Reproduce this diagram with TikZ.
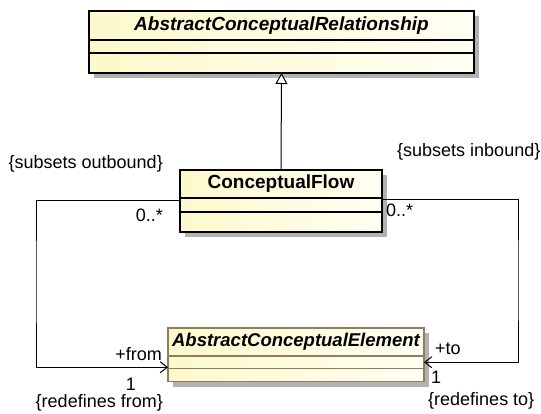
\documentclass[tikz,border=0pt]{standalone}
\usepackage{fontspec}
\setmainfont{Liberation Sans}
\usetikzlibrary{arrows.meta,positioning,shadows}
\definecolor{classleft}{RGB}{252,249,204}
\definecolor{classright}{RGB}{255,255,242}
\definecolor{shadowgray}{RGB}{178,178,178}
\definecolor{absborder}{RGB}{150,122,92}

\begin{document}
\begin{tikzpicture}[
  x=1pt, y=-1pt,
  font=\fontsize{18}{21}\selectfont,
  part/.style={draw, line width=1.1pt, left color=classleft, right color=classright, outer sep=0pt, inner sep=0pt,
    drop shadow={shadow xshift=5pt, shadow yshift=-5pt, fill=shadowgray, opacity=1}},
  title/.style={part, font=\fontsize{19}{22}\selectfont\bfseries},
  abstitle/.style={part, font=\fontsize{19}{22}\selectfont\bfseries\itshape},
  lbl/.style={inner sep=0pt},
  navi/.style={line width=1pt, -{Straight Barb[length=7pt,width=11pt]}},
  gen/.style={line width=1pt, -{Triangle[open, length=11pt, width=12pt, fill=white]}}
]
\useasboundingbox (0,0) rectangle (541,414);

% abstract parent
\node[abstitle, minimum width=385pt, minimum height=29pt, anchor=north west] (rel) at (89,11) {AbstractConceptualRelationship};
\node[part, minimum width=385pt, minimum height=13pt, below=0pt of rel] (rel2) {};
\node[part, minimum width=385pt, minimum height=20pt, below=0pt of rel2] (rel3) {};

% the flow class
\node[title, minimum width=202pt, minimum height=28pt, anchor=north west] (cf) at (180,170) {ConceptualFlow};
\node[part, minimum width=202pt, minimum height=14pt, below=0pt of cf] (cf2) {};
\node[part, minimum width=202pt, minimum height=20pt, below=0pt of cf2] (cf3) {};

% element class
\node[abstitle, font=\fontsize{18.5}{22}\selectfont\bfseries\itshape, draw=absborder, minimum width=256pt, minimum height=28pt, anchor=north west] (ace) at (168,328) {AbstractConceptualElement};
\node[part, draw=absborder, minimum width=256pt, minimum height=12.5pt, below=0pt of ace] (ace2) {};
\node[part, draw=absborder, minimum width=256pt, minimum height=13pt, below=0pt of ace2] (ace3) {};

\draw[gen] (cf.north) -- (rel3.south);

\coordinate (outbend) at (36,280);
\coordinate (inbend) at (518,280);
\draw[navi] ([yshift=4pt]cf2.west) -| (outbend) |- ([yshift=-5pt]ace2.west);
\draw[navi] ([yshift=5pt]cf2.east) -| (inbend) |- (ace2.east);

% association ends
\node[lbl, anchor=east] (outC) at (163,164) {\{subsets outbound\}};
\node[lbl, anchor=east] (outM) at (163,215) {0..*};
\node[lbl, anchor=west] (inC) at (397,152) {\{subsets inbound\}};
\node[lbl, anchor=west] (inM) at (386,210) {0..*};
\node[lbl, anchor=east] (fromR) at (162,354) {+from};
\node[lbl] (fromM) at (131,384) {1};
\node[lbl, anchor=east] (fromC) at (163,403) {\{redefines from\}};
\node[lbl, anchor=west] (toR) at (435,349) {+to};
\node[lbl, anchor=west] (toM) at (431,377) {1};
\node[lbl, anchor=west] (toC) at (428,401) {\{redefines to\}};
\end{tikzpicture}
\end{document}
